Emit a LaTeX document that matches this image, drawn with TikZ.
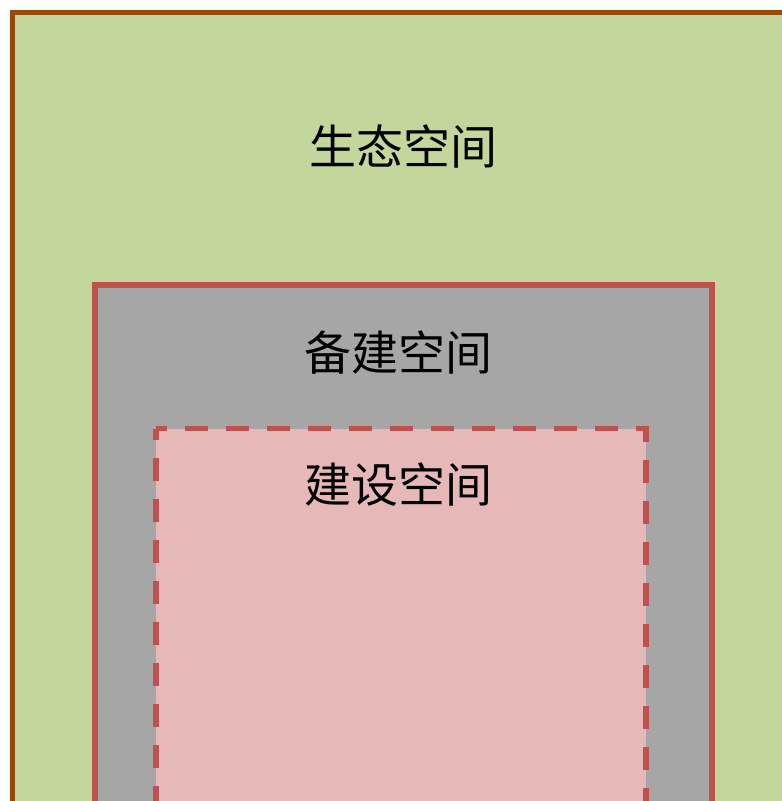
\documentclass[tikz,border=0pt]{standalone}
\usepackage{fontspec}
\newfontfamily\cjk{Noto Sans CJK SC}
\definecolor{ecogreen}{HTML}{C3D69B}
\definecolor{ecobrown}{HTML}{984807}
\definecolor{reservegray}{HTML}{A6A6A6}
\definecolor{borderred}{HTML}{C0504D}
\definecolor{buildpink}{HTML}{E6B9B8}
\tikzset{
  label text/.style={font=\cjk\fontsize{47}{47}\selectfont, inner sep=0pt, anchor=base, text=black},
  dashbox/.style={draw=borderred, line width=5.5pt, dash pattern=on 23pt off 18pt, dash phase=12pt},
}
\begin{document}
\begin{tikzpicture}[x=1pt,y=-1pt]
\useasboundingbox (0,0) rectangle (782,801);
\clip (0,0) rectangle (782,801);
% ecological space
\draw[fill=ecogreen, draw=ecobrown, line width=5pt] (12.5,12.5) rectangle (830,850);
% reserve space
\draw[fill=reservegray, draw=borderred, line width=6pt] (95,285) rectangle (712,850);
% construction space
\fill[buildpink] (156,428.5) rectangle (646,850);
\draw[dashbox] (156,428.5) -- (646,428.5) -- (646,850);
\draw[dashbox] (156,428.5) -- (156,850);
\node[label text] (eco) at (403,164) {生态空间};
\node[label text] (reserve) at (398.5,370) {备建空间};
\node[label text] (build) at (398.5,502) {建设空间};
\end{tikzpicture}
\end{document}
